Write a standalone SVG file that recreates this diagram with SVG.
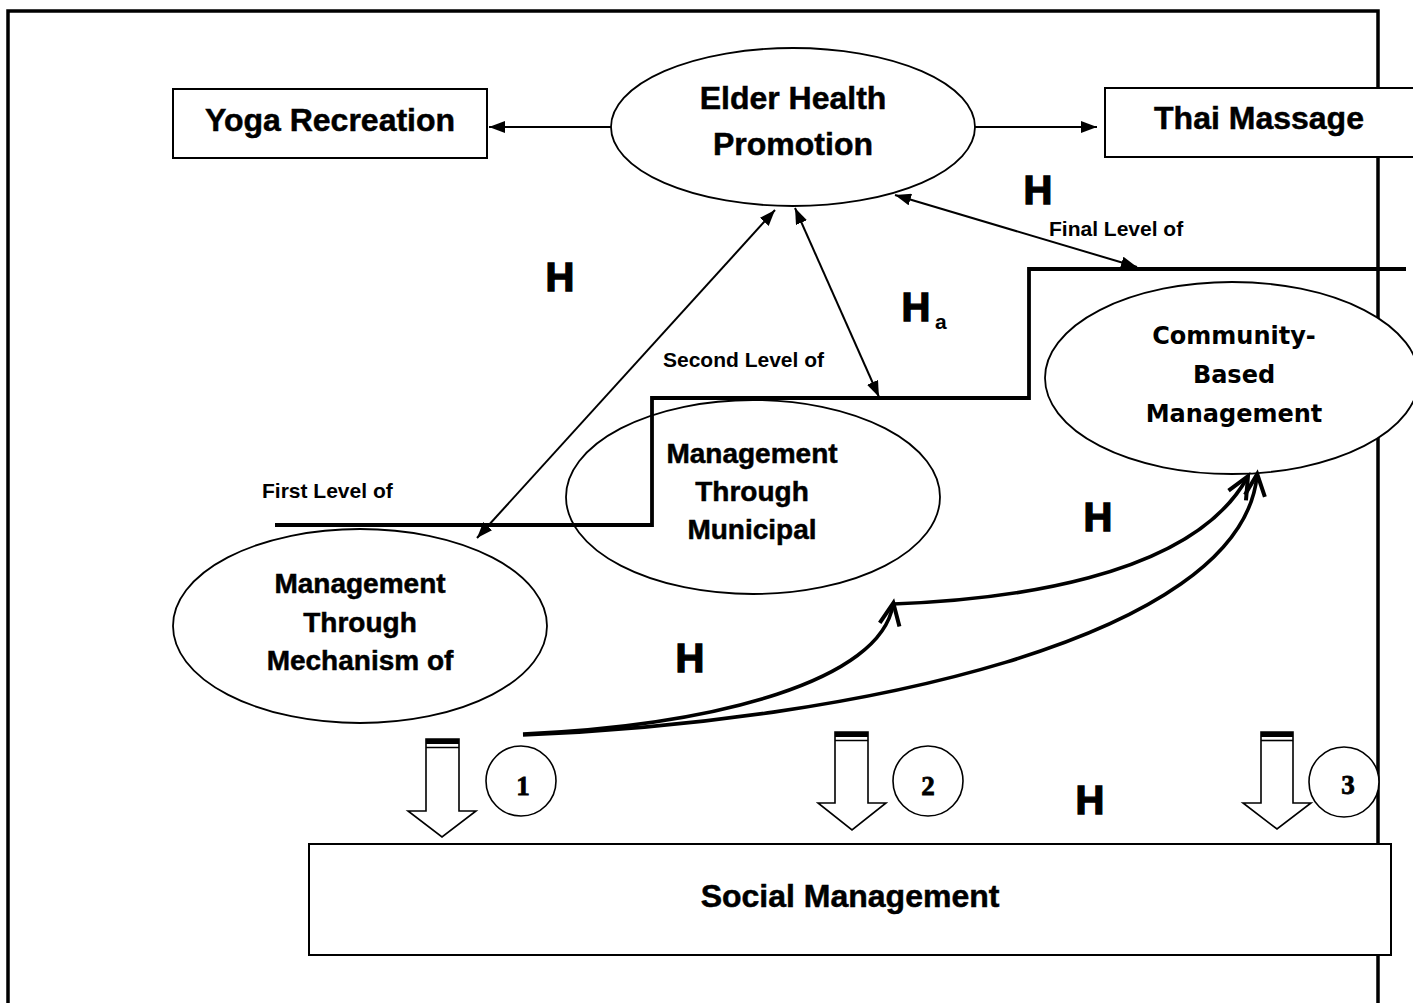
<svg xmlns="http://www.w3.org/2000/svg" width="1413" height="1003" viewBox="0 0 1413 1003">
  <style>
    .frame { fill: none; stroke: #000; stroke-width: 3.5; }
    .box { fill: #fff; stroke: #000; stroke-width: 2; }
    .oval { fill: #fff; stroke: #000; stroke-width: 1.8; }
    .ring { fill: #fff; stroke: #000; stroke-width: 1.6; }
    .lbl { font-family: "Liberation Sans", Arial, sans-serif; font-weight: bold; fill: #000; stroke: #000; stroke-width: 0.5; text-anchor: middle; }
    .big { font-size: 32px; }
    .mid { font-size: 28px; }
    .cbm { font-family: "DejaVu Sans", sans-serif; font-weight: bold; font-size: 24px; fill: #000; text-anchor: middle; }
    .small { font-family: "Liberation Sans", Arial, sans-serif; font-weight: bold; font-size: 21px; fill: #000; }
    .hyp { font-family: "Liberation Sans", Arial, sans-serif; font-weight: bold; font-size: 40px; fill: #000; stroke: #000; stroke-width: 1.4; text-anchor: middle; }
    .num { font-family: "Liberation Serif", "Times New Roman", serif; font-weight: bold; font-size: 27px; fill: #000; stroke: #000; stroke-width: 0.8; text-anchor: middle; }
    .thin { fill: none; stroke: #000; stroke-width: 2; }
    .step { fill: none; stroke: #000; stroke-width: 3.8; stroke-linejoin: miter; }
    .curve { fill: none; stroke: #000; stroke-width: 3.6; marker-end: url(#chev); }
    .down { fill: #fff; stroke: #000; stroke-width: 1.6; }
  </style>
  <defs>
    <marker id="head" markerUnits="userSpaceOnUse" markerWidth="16" markerHeight="12" refX="16" refY="6" orient="auto-start-reverse" viewBox="0 0 16 12">
      <path d="M0,0 L16,6 L0,12 z" fill="#000"/>
    </marker>
    <marker id="chev" markerUnits="userSpaceOnUse" markerWidth="32" markerHeight="32" refX="23" refY="15" orient="auto" viewBox="0 0 32 32" overflow="visible">
      <path d="M3,5 L25,15 L3,25" fill="none" stroke="#000" stroke-width="4"/>
    </marker>
  </defs>

  <rect width="1413" height="1003" fill="#fff"/>

  <!-- outer frame -->
  <path class="frame" d="M8,1006 V11 H1378 V1006"/>

  <!-- nodes -->
  <g id="yoga">
    <rect class="box" x="173" y="89" width="314" height="69"/>
    <text class="lbl big" x="330" y="131">Yoga Recreation</text>
  </g>
  <g id="elder">
    <ellipse class="oval" cx="793" cy="127" rx="182" ry="79"/>
    <text class="lbl big" x="793" y="109">Elder Health</text>
    <text class="lbl big" x="793" y="155">Promotion</text>
  </g>
  <g id="thai">
    <rect class="box" x="1105" y="88" width="330" height="69"/>
    <text class="lbl big" x="1259" y="129">Thai Massage</text>
  </g>
  <g id="community">
    <ellipse class="oval" cx="1232" cy="378" rx="187" ry="96"/>
    <text class="cbm" x="1234" y="344">Community-</text>
    <text class="cbm" x="1234" y="383">Based</text>
    <text class="cbm" x="1234" y="422">Management</text>
  </g>
  <g id="municipal">
    <ellipse class="oval" cx="753" cy="497" rx="187" ry="97"/>
    <text class="lbl mid" x="752" y="463">Management</text>
    <text class="lbl mid" x="752" y="501">Through</text>
    <text class="lbl mid" x="752" y="539">Municipal</text>
  </g>
  <g id="mechanism">
    <ellipse class="oval" cx="360" cy="626" rx="187" ry="97"/>
    <text class="lbl mid" x="360" y="593">Management</text>
    <text class="lbl mid" x="360" y="632">Through</text>
    <text class="lbl mid" x="360" y="670">Mechanism of</text>
  </g>
  <g id="social">
    <rect class="box" x="309" y="844" width="1082" height="111"/>
    <text class="lbl big" x="850" y="907">Social Management</text>
  </g>

  <!-- numbered markers with hollow down arrows -->
  <g id="stage1">
    <path class="down" d="M426,739 V811 H408 L442,837 L476,811 H459 V739 Z"/>
    <rect x="426" y="739" width="33" height="5" fill="#000"/>
    <line x1="426" y1="747.5" x2="459" y2="747.5" stroke="#000" stroke-width="1.6"/>
    <circle class="ring" cx="521" cy="781" r="35"/>
    <text class="num" x="523" y="795">1</text>
  </g>
  <g id="stage2">
    <path class="down" d="M835,732 V803 H818 L852,830 L886,803 H868 V732 Z"/>
    <rect x="835" y="732" width="33" height="5" fill="#000"/>
    <line x1="835" y1="740.5" x2="868" y2="740.5" stroke="#000" stroke-width="1.6"/>
    <circle class="ring" cx="928" cy="781" r="35"/>
    <text class="num" x="928" y="795">2</text>
  </g>
  <g id="stage3">
    <path class="down" d="M1261,732 V803 H1243 L1277,829 L1311,803 H1293 V732 Z"/>
    <rect x="1261" y="732" width="32" height="5" fill="#000"/>
    <line x1="1261" y1="740.5" x2="1293" y2="740.5" stroke="#000" stroke-width="1.6"/>
    <circle class="ring" cx="1344" cy="782" r="35"/>
    <text class="num" x="1348" y="794">3</text>
  </g>

  <!-- connectors -->
  <g id="connectors">
    <line class="thin" x1="611" y1="127" x2="489" y2="127" marker-end="url(#head)"/>
    <line class="thin" x1="975" y1="127" x2="1097" y2="127" marker-end="url(#head)"/>
    <path class="step" d="M275,525 H652 V398 H1029 V269 H1406"/>
    <line class="thin" x1="775" y1="210" x2="477" y2="538" marker-start="url(#head)" marker-end="url(#head)"/>
    <line class="thin" x1="795" y1="208" x2="879" y2="397" marker-start="url(#head)" marker-end="url(#head)"/>
    <line class="thin" x1="895" y1="195" x2="1137" y2="267" marker-start="url(#head)" marker-end="url(#head)"/>
    <path class="curve" d="M523,734 C720,725 880,680 893,605"/>
    <path class="curve" d="M893,604 C1000,600 1190,580 1247,478"/>
    <path class="curve" d="M523,735 C850,722 1240,640 1257,476"/>
  </g>

  <!-- level and hypothesis labels -->
  <g id="labels">
    <text class="small" x="1049" y="236">Final Level of</text>
    <text class="small" x="663" y="367">Second Level of</text>
    <text class="small" x="262" y="498">First Level of</text>
    <text class="hyp" x="1038" y="204">H</text>
    <text class="hyp" x="560" y="291">H</text>
    <text class="hyp" x="916" y="321">H</text>
    <text class="small" x="935" y="329" font-size="24">a</text>
    <text class="hyp" x="1098" y="531">H</text>
    <text class="hyp" x="690" y="672">H</text>
    <text class="hyp" x="1090" y="814">H</text>
  </g>
</svg>
